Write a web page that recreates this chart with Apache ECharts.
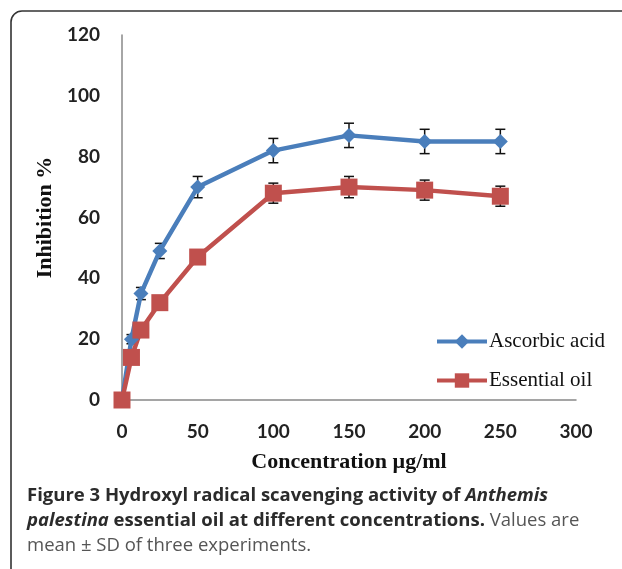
<!DOCTYPE html>
<html><head><meta charset="utf-8">
<script src="https://cdn.jsdelivr.net/npm/echarts@6/dist/echarts.min.js"></script>
<style>html,body{margin:0;padding:0;background:#fff}#c{width:622px;height:569px}</style>
</head><body><div id="c"></div>
<script>
var concentrations = [0, 6.25, 12.5, 25, 50, 100, 150, 200, 250];
var ascorbic = [0, 20, 35, 49, 70, 82, 87, 85, 85];
var ascorbicSD = [0, 1.5, 2, 2.5, 3.5, 4, 4, 4, 4];
var oil = [0, 14, 23, 32, 47, 68, 70, 69, 67];
var oilSD = [0, 1, 1.5, 2, 2, 3.3, 3.5, 3.3, 3.3];
var seriesNames = ['Ascorbic acid', 'Essential oil'];
var xTitle = 'Concentration µg/ml';
var yTitle = 'Inhibition %';

function pairs(ys){ return concentrations.map(function(x,i){return [x, ys[i]];}); }
function errData(ys, sd){ return concentrations.map(function(x,i){return [x, ys[i]-sd[i], ys[i]+sd[i]];}); }
function errRender(params, api){
  var x = api.value(0), lo = api.coord([x, api.value(1)]), hi = api.coord([x, api.value(2)]);
  var w = 5;
  var st = {stroke:'#111', lineWidth:1.5};
  return {type:'group', children:[
    {type:'line', shape:{x1:lo[0],y1:lo[1],x2:hi[0],y2:hi[1]}, style:st},
    {type:'line', shape:{x1:lo[0]-w,y1:lo[1],x2:lo[0]+w,y2:lo[1]}, style:st},
    {type:'line', shape:{x1:hi[0]-w,y1:hi[1],x2:hi[0]+w,y2:hi[1]}, style:st}
  ]};
}

var chart = echarts.init(document.getElementById('c'), null, {renderer:'canvas'});
chart.setOption({
  backgroundColor:'#fff',
  animation:false,
  grid:{left:122, right:46, top:35, bottom:169, containLabel:false},
  legend:{
    orient:'vertical', left:430, top:326, itemGap:18, itemWidth:50, itemHeight:18,
    data:seriesNames,
    lineStyle:{width:4},
    textStyle:{fontFamily:'Liberation Serif', fontSize:21, lineHeight:21, color:'#111', padding:[0,0,0,-3]}
  },
  xAxis:{type:'value', min:0, max:300, interval:50,
    axisLine:{show:true, lineStyle:{color:'#888', width:1.5}}, axisTick:{show:false}, splitLine:{show:false},
    axisLabel:{fontFamily:'Lato', fontWeight:'bold', fontSize:19, color:'#222', margin:22},
    name:xTitle, nameLocation:'middle', nameGap:51,
    nameTextStyle:{fontFamily:'Liberation Serif', fontWeight:'bold', fontSize:22, color:'#111'}
  },
  yAxis:{type:'value', min:0, max:120, interval:20,
    axisLine:{show:true, lineStyle:{color:'#888', width:1.5}}, axisTick:{show:false}, splitLine:{show:false},
    axisLabel:{fontFamily:'Lato', fontWeight:'bold', fontSize:19, color:'#222', margin:22},
    name:yTitle, nameLocation:'middle', nameGap:66, nameRotate:90,
    nameTextStyle:{fontFamily:'Liberation Serif', fontWeight:'bold', fontSize:22, color:'#111'}
  },
  series:[
    {type:'custom', renderItem:errRender, data:errData(ascorbic, ascorbicSD), z:2, silent:true},
    {type:'custom', renderItem:errRender, data:errData(oil, oilSD), z:2, silent:true},
    {name:seriesNames[0], type:'line', data:pairs(ascorbic), symbol:'diamond', symbolSize:15,
     lineStyle:{color:'#4A7EBB', width:4.5}, itemStyle:{color:'#4A7EBB'}, z:3},
    {name:seriesNames[1], type:'line', data:pairs(oil), symbol:'rect', symbolSize:17,
     lineStyle:{color:'#C0504D', width:4.5}, itemStyle:{color:'#C0504D'}, z:3}
  ],
  graphic:[
    {type:'rect', shape:{x:11, y:11, width:800, height:800, r:[11,0,0,0]},
     style:{fill:'none', stroke:'#333', lineWidth:1.6}, silent:true},
    {type:'text', left:27, top:486, style:{
      text:'{b|Figure 3 Hydroxyl radical scavenging activity of }{bi|Anthemis}\n{bi|palestina}{b| essential oil at different concentrations.}{n| Values are}\n{n|mean ± SD of three experiments.}',
      rich:{
        b:{fontFamily:'Open Sans', fontWeight:'bold', fontSize:18.5, lineHeight:25, fill:'#2b2b2b'},
        bi:{fontFamily:'Open Sans', fontWeight:'bold', fontStyle:'italic', fontSize:18.5, lineHeight:25, fill:'#2b2b2b'},
        n:{fontFamily:'Open Sans', fontWeight:'normal', fontSize:18.5, lineHeight:25, fill:'#555'}
      }
    }}
  ]
});
</script></body></html>
